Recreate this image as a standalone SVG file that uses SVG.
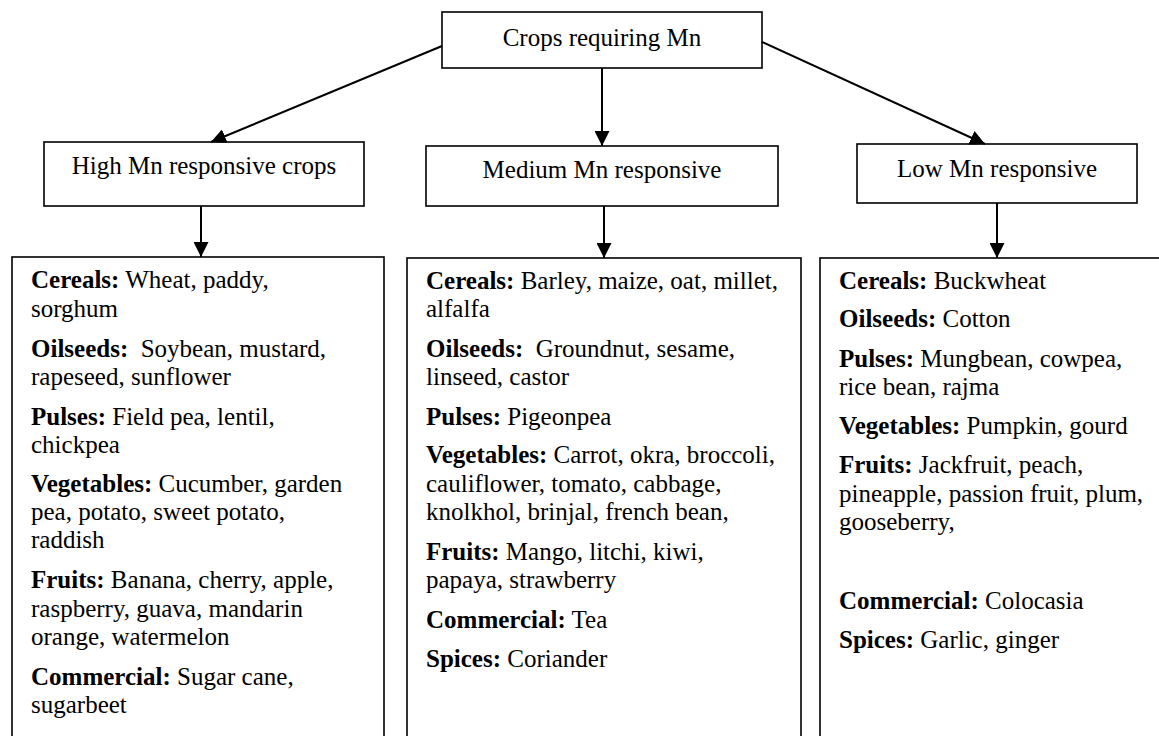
<svg xmlns="http://www.w3.org/2000/svg" width="1159" height="736" viewBox="0 0 1159 736">
<style>
  .box { fill: #ffffff; stroke: #000000; stroke-width: 1.6; }
  .t { font-family: "Liberation Serif", "Times New Roman", serif; font-size: 25px; fill: #000000; white-space: pre; }
  .c { text-anchor: middle; }
  .b { font-weight: bold; }
  .conn line { stroke: #000000; stroke-width: 2; }
</style>
<defs>
  <marker id="ah" viewBox="0 0 10 10" refX="10" refY="5" markerWidth="15" markerHeight="15" markerUnits="userSpaceOnUse" orient="auto">
    <path d="M0,0 L10,5 L0,10 Z" fill="#000000"/>
  </marker>
</defs>
<rect width="1159" height="736" fill="#ffffff"/>

<g id="root">
  <rect class="box" x="442" y="12" width="320" height="56"/>
  <text class="t c" x="602" y="46">Crops requiring Mn</text>
</g>

<g id="high">
  <rect class="box" x="44" y="142" width="320" height="64"/>
  <text class="t c" x="204" y="174">High Mn responsive crops</text>
</g>

<g id="medium">
  <rect class="box" x="426" y="146" width="352" height="60"/>
  <text class="t c" x="602" y="178">Medium Mn responsive</text>
</g>

<g id="low">
  <rect class="box" x="857" y="144" width="280" height="59"/>
  <text class="t c" x="997" y="177">Low Mn responsive</text>
</g>

<g id="high-list">
  <rect class="box" x="12" y="257" width="372" height="500"/>
  <text class="t" x="31" y="288"><tspan class="b">Cereals:</tspan> Wheat, paddy,</text>
  <text class="t" x="31" y="316.5">sorghum</text>
  <text class="t" x="31" y="357"><tspan class="b">Oilseeds:</tspan>  Soybean, mustard,</text>
  <text class="t" x="31" y="385">rapeseed, sunflower</text>
  <text class="t" x="31" y="425"><tspan class="b">Pulses:</tspan> Field pea, lentil,</text>
  <text class="t" x="31" y="453">chickpea</text>
  <text class="t" x="31" y="492"><tspan class="b">Vegetables:</tspan> Cucumber, garden</text>
  <text class="t" x="31" y="520">pea, potato, sweet potato,</text>
  <text class="t" x="31" y="548">raddish</text>
  <text class="t" x="31" y="588"><tspan class="b">Fruits:</tspan> Banana, cherry, apple,</text>
  <text class="t" x="31" y="617">raspberry, guava, mandarin</text>
  <text class="t" x="31" y="645">orange, watermelon</text>
  <text class="t" x="31" y="685"><tspan class="b">Commercial:</tspan> Sugar cane,</text>
  <text class="t" x="31" y="713">sugarbeet</text>
</g>

<g id="medium-list">
  <rect class="box" x="407" y="258" width="394" height="500"/>
  <text class="t" x="426" y="289"><tspan class="b">Cereals:</tspan> Barley, maize, oat, millet,</text>
  <text class="t" x="426" y="317">alfalfa</text>
  <text class="t" x="426" y="357"><tspan class="b">Oilseeds:</tspan>  Groundnut, sesame,</text>
  <text class="t" x="426" y="385">linseed, castor</text>
  <text class="t" x="426" y="425"><tspan class="b">Pulses:</tspan> Pigeonpea</text>
  <text class="t" x="426" y="463"><tspan class="b">Vegetables:</tspan> Carrot, okra, broccoli,</text>
  <text class="t" x="426" y="492">cauliflower, tomato, cabbage,</text>
  <text class="t" x="426" y="520">knolkhol, brinjal, french bean,</text>
  <text class="t" x="426" y="560"><tspan class="b">Fruits:</tspan> Mango, litchi, kiwi,</text>
  <text class="t" x="426" y="588">papaya, strawberry</text>
  <text class="t" x="426" y="628"><tspan class="b">Commercial:</tspan> Tea</text>
  <text class="t" x="426" y="667"><tspan class="b">Spices:</tspan> Coriander</text>
</g>

<g id="low-list">
  <rect class="box" x="820" y="258" width="360" height="500"/>
  <text class="t" x="839" y="289"><tspan class="b">Cereals:</tspan> Buckwheat</text>
  <text class="t" x="839" y="327"><tspan class="b">Oilseeds:</tspan> Cotton</text>
  <text class="t" x="839" y="367"><tspan class="b">Pulses:</tspan> Mungbean, cowpea,</text>
  <text class="t" x="839" y="395">rice bean, rajma</text>
  <text class="t" x="839" y="434"><tspan class="b">Vegetables:</tspan> Pumpkin, gourd</text>
  <text class="t" x="839" y="473"><tspan class="b">Fruits:</tspan> Jackfruit, peach,</text>
  <text class="t" x="839" y="502">pineapple, passion fruit, plum,</text>
  <text class="t" x="839" y="530">gooseberry,</text>
  <text class="t" x="839" y="609"><tspan class="b">Commercial:</tspan> Colocasia</text>
  <text class="t" x="839" y="648"><tspan class="b">Spices:</tspan> Garlic, ginger</text>
</g>

<g id="connectors" class="conn">
  <line x1="442" y1="46" x2="211" y2="142" marker-end="url(#ah)"/>
  <line x1="602" y1="68" x2="602" y2="146" marker-end="url(#ah)"/>
  <line x1="762" y1="42" x2="985" y2="144" marker-end="url(#ah)"/>
  <line x1="201" y1="206" x2="201" y2="257" marker-end="url(#ah)"/>
  <line x1="604" y1="206" x2="604" y2="258" marker-end="url(#ah)"/>
  <line x1="997" y1="203" x2="997" y2="258" marker-end="url(#ah)"/>
</g>
</svg>
